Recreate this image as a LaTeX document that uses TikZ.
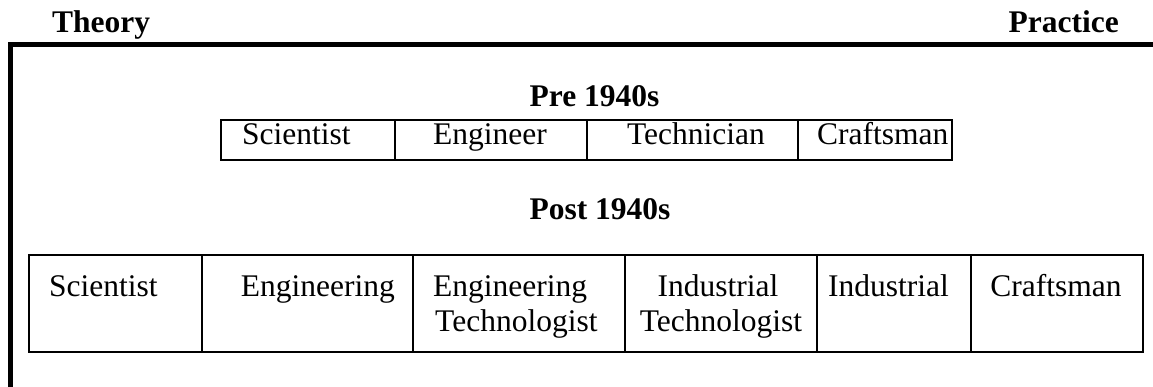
\documentclass[tikz,border=0pt]{standalone}
\usepackage{fontspec}
\setmainfont{Liberation Serif}
\begin{document}
\begin{tikzpicture}[x=1pt,y=-1pt,
  txt/.style={inner sep=0pt,font=\fontsize{31.5}{36}\selectfont},
  head/.style={inner sep=0pt,font=\fontsize{31.5}{36}\selectfont\bfseries},
  frame/.style={line width=5pt},
  grid/.style={line width=2.6pt}]
\useasboundingbox (0,0) rectangle (1153,387);
% axis frame
\coordinate (fc) at (10.5,44.5);
\coordinate (fr) at (1153,44.5);
\coordinate (fb) at (10.5,387);
\draw[frame] (fb) -- (fc) -- (fr);
% headings
\node[head,anchor=base west] (theory) at (52,33) {Theory};
\node[head,anchor=base east] (practice) at (1119,33) {Practice};
\node[head,anchor=base] (pre) at (594.5,107) {Pre 1940s};
\node[head,anchor=base] (post) at (600,220) {Post 1940s};
% upper table
\draw[grid] (221,120) rectangle (952,160);
\foreach \x in {395,587,798} \draw[grid] (\x,120) -- (\x,160);
\node[txt,anchor=base west] (u1) at (242,145) {Scientist};
\node[txt,anchor=base] (u2) at (490,145) {Engineer};
\node[txt,anchor=base] (u3) at (696,145) {Technician};
\node[txt,anchor=base west] (u4) at (817,145) {Craftsman};
% lower table
\draw[grid] (29,255) rectangle (1143,352);
\foreach \x in {202,413,625,817,971} \draw[grid] (\x,255) -- (\x,352);
\node[txt,anchor=base west] (l1) at (49,296) {Scientist};
\node[txt,anchor=base east] (l2) at (395,296) {Engineering};
\node[txt,anchor=base west] (l3a) at (433,296) {Engineering};
\node[txt,anchor=base west] (l3b) at (435,331) {Technologist};
\node[txt,anchor=base] (l4a) at (718,296) {Industrial};
\node[txt,anchor=base] (l4b) at (721,331) {Technologist};
\node[txt,anchor=base west] (l5) at (828,296) {Industrial};
\node[txt,anchor=base] (l6) at (1056,296) {Craftsman};
\end{tikzpicture}
\end{document}
